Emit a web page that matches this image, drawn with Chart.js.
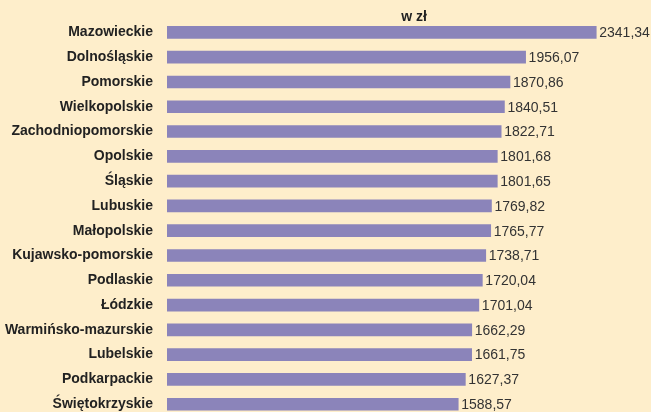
<!DOCTYPE html>
<html>
<head>
<meta charset="utf-8">
<script src="https://cdn.jsdelivr.net/npm/chart.js@4"></script>
<style>
  html, body { margin: 0; padding: 0; background: #feeecb; overflow: hidden; }
  #wrap { width: 651px; height: 431px; position: relative; }
</style>
</head>
<body>
<div id="wrap"><canvas id="wageChart"></canvas></div>
<script>
// Przeciętne wynagrodzenie wg województw (w zł)
const regions = ["Mazowieckie", "Dolnośląskie", "Pomorskie", "Wielkopolskie", "Zachodniopomorskie",
  "Opolskie", "Śląskie", "Lubuskie", "Małopolskie", "Kujawsko-pomorskie", "Podlaskie", "Łódzkie",
  "Warmińsko-mazurskie", "Lubelskie", "Podkarpackie", "Świętokrzyskie"];
const wages = [2341.34, 1956.07, 1870.86, 1840.51, 1822.71, 1801.68, 1801.65, 1769.82,
  1765.77, 1738.71, 1720.04, 1701.04, 1662.29, 1661.75, 1627.37, 1588.57];
const unitLabel = "w zł";

const fmt = v => v.toFixed(2).replace(".", ",");

const valueLabels = {
  id: "valueLabels",
  afterDatasetsDraw(chart) {
    const ctx = chart.ctx;
    const meta = chart.getDatasetMeta(0);
    ctx.save();
    ctx.font = "14px 'Liberation Sans', Arial, sans-serif";
    ctx.fillStyle = "#333333";
    ctx.textBaseline = "middle";
    ctx.textAlign = "left";
    meta.data.forEach((bar, i) => {
      ctx.fillText(fmt(wages[i]), bar.x + 3, bar.y + 1);
    });
    // unit caption above the bars
    ctx.font = "bold 14px 'Liberation Sans', Arial, sans-serif";
    ctx.fillStyle = "#222222";
    ctx.textAlign = "center";
    ctx.fillText(unitLabel, 414, 17);
    ctx.restore();
  }
};

new Chart(document.getElementById("wageChart"), {
  type: "bar",
  data: {
    labels: regions,
    datasets: [{
      data: wages,
      backgroundColor: "#8b84ba",
      barThickness: 12
    }]
  },
  options: {
    indexAxis: "y",
    responsive: true,
    maintainAspectRatio: false,
    animation: false,
    layout: { padding: { top: 20, right: 44, bottom: 1, left: 0 } },
    plugins: {
      legend: { display: false },
      tooltip: { enabled: false }
    },
    scales: {
      x: {
        min: 0,
        max: 2400,
        display: false
      },
      y: {
        grid: { display: false },
        border: { display: false },
        afterFit(scale) { scale.width = 167; },
        ticks: {
          padding: 6,
          color: "#222222",
          font: { family: "'Liberation Sans', Arial, sans-serif", size: 14, weight: "bold" }
        }
      }
    }
  },
  plugins: [valueLabels]
});
</script>
</body>
</html>
